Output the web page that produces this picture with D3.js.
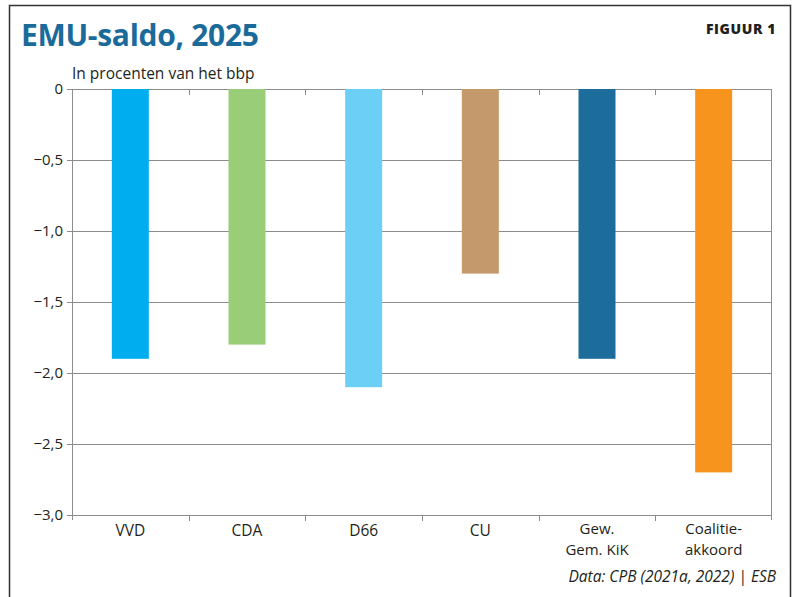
<!DOCTYPE html>
<html lang="nl">
<head>
<meta charset="UTF-8">
<title>EMU-saldo, 2025</title>
<script src="https://d3js.org/d3.v7.min.js"></script>
<style>
    html, body { margin: 0; padding: 0; background: #fff; }
    svg { display: block; font-family: "Open Sans", "Noto Sans", sans-serif; }
</style>
</head>
<body>
<div id="chart"></div>
<script>
    // data
    var categories = ["VVD", "CDA", "D66", "CU", "Gew.\nGem. KiK", "Coalitie-\nakkoord"];
    var values = [-1.9, -1.8, -2.1, -1.3, -1.9, -2.7];
    var colors = ["#00aeef", "#9acd78", "#6ccff6", "#c49a6c", "#1c6d9c", "#f7941d"];
    var yTicks = [0, -0.5, -1, -1.5, -2, -2.5, -3];

    var W = 795, H = 597;
    var margin = {top: 89, right: 23, bottom: 82, left: 72};
    var width = W - margin.left - margin.right,
        height = H - margin.top - margin.bottom;

    var svg = d3.select("#chart").append("svg")
        .attr("width", W)
        .attr("height", H);

    // frame
    svg.append("path")
        .attr("d", "M9.5," + H + "V5.5H790.5V" + H)
        .attr("fill", "none")
        .attr("stroke", "#333")
        .attr("stroke-width", 1.5);

    svg.append("text")
        .attr("x", 21).attr("y", 46)
        .attr("fill", "#1b6b9a")
        .attr("font-size", 30)
        .attr("font-weight", 700)
        .attr("letter-spacing", -0.3)
        .text("EMU-saldo, 2025");

    svg.append("text")
        .attr("x", 776).attr("y", 34)
        .attr("text-anchor", "end")
        .attr("fill", "#231f20")
        .attr("font-size", 14)
        .attr("font-weight", 800)
        .attr("letter-spacing", 0.6)
        .text("FIGUUR 1");

    svg.append("text")
        .attr("x", 72).attr("y", 79)
        .attr("fill", "#231f20")
        .attr("font-size", 15.5)
        .text("In procenten van het bbp");

    var g = svg.append("g")
        .attr("transform", "translate(" + margin.left + "," + margin.top + ")");

    var x = d3.scaleBand().domain(categories).range([0, width]).paddingInner(0).paddingOuter(0);
    var y = d3.scaleLinear().domain([0, -3]).range([0, height]);
    var barW = 37;

    // gridlines
    g.selectAll(".grid").data(yTicks).enter().append("line")
        .attr("x1", -5).attr("x2", width)
        .attr("y1", function(d) { return Math.round(y(d)) + 0.5; })
        .attr("y2", function(d) { return Math.round(y(d)) + 0.5; })
        .attr("stroke", "#8c8c8c")
        .attr("stroke-width", 1);

    // left and right lines
    g.append("line").attr("x1", 0.5).attr("x2", 0.5).attr("y1", 0).attr("y2", height + 5)
        .attr("stroke", "#8c8c8c");
    g.append("line").attr("x1", width - 0.5).attr("x2", width - 0.5).attr("y1", 0).attr("y2", height + 5)
        .attr("stroke", "#8c8c8c");

    // category separators at top and bottom
    var seps = categories.slice(1).map(function(c) { return x(c); });
    g.selectAll(".sepb").data(seps).enter().append("line")
        .attr("x1", function(d) { return Math.round(d) + 0.5; })
        .attr("x2", function(d) { return Math.round(d) + 0.5; })
        .attr("y1", height).attr("y2", height + 6)
        .attr("stroke", "#8c8c8c");
    g.selectAll(".sept").data(seps).enter().append("line")
        .attr("x1", function(d) { return Math.round(d) + 0.5; })
        .attr("x2", function(d) { return Math.round(d) + 0.5; })
        .attr("y1", 0).attr("y2", 6)
        .attr("stroke", "#8c8c8c");

    // bars
    g.selectAll(".bar").data(values).enter().append("rect")
        .attr("x", function(d, i) { return x(categories[i]) + x.bandwidth() / 2 - barW / 2; })
        .attr("y", y(0))
        .attr("width", barW)
        .attr("height", function(d) { return y(d) - y(0); })
        .attr("fill", function(d, i) { return colors[i]; });

    // y tick labels
    var fmt = function(d) {
        if (d === 0) return "0";
        return "\u2212" + d3.format(".1f")(Math.abs(d)).replace(".", ",");
    };
    g.selectAll(".ylab").data(yTicks).enter().append("text")
        .attr("x", -9)
        .attr("y", function(d) { return y(d); })
        .attr("dy", "0.35em")
        .attr("text-anchor", "end")
        .attr("fill", "#231f20")
        .attr("font-size", 15)
        .text(fmt);

    // x labels, one text per line
    categories.forEach(function(c) {
        var lines = c.split("\n");
        var two = lines.length > 1;
        var y0 = height + (two ? 19 : 21);
        lines.forEach(function(line, i) {
            g.append("text")
                .attr("x", x(c) + x.bandwidth() / 2)
                .attr("y", y0 + i * 21)
                .attr("text-anchor", "middle")
                .attr("fill", "#231f20")
                .attr("font-size", two ? 15 : 15.5)
                .text(line);
        });
    });

    svg.append("text")
        .attr("x", 776).attr("y", 582)
        .attr("text-anchor", "end")
        .attr("fill", "#231f20")
        .attr("font-size", 15.5)
        .attr("font-style", "italic")
        .text("Data: CPB (2021a, 2022) | ESB");
</script>
</body>
</html>
